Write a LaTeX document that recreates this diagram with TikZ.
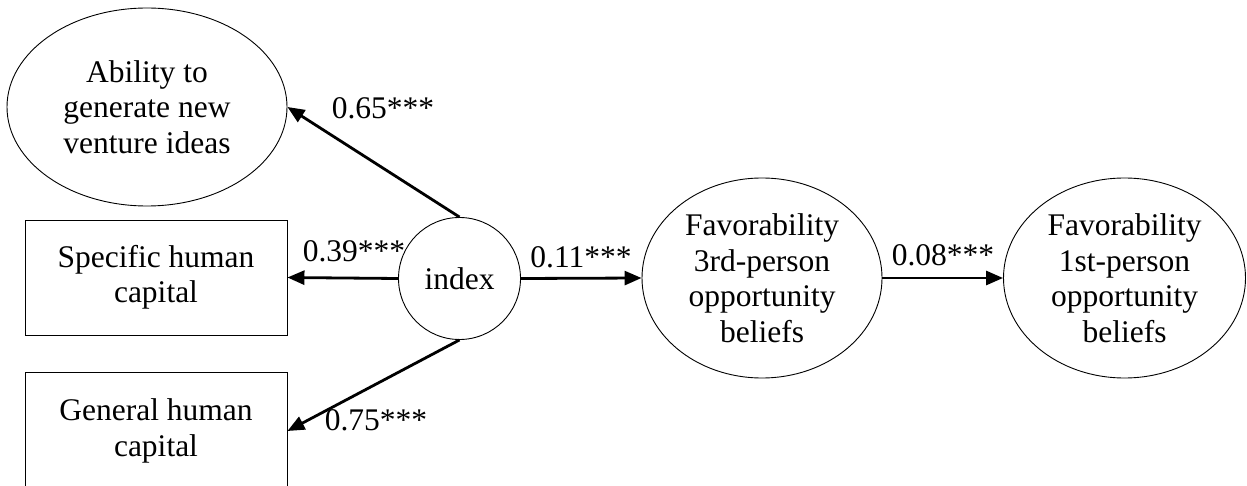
\documentclass[tikz,border=0pt]{standalone}
\usepackage{fontspec}
\setmainfont{Liberation Serif}
\usetikzlibrary{shapes.geometric,arrows.meta}
\begin{document}
\begin{tikzpicture}[x=1pt,y=-1pt,
  every node/.style={font=\fontsize{31.5}{35.5}\selectfont, align=center},
  oval/.style={draw, line width=0.9pt, ellipse, inner sep=0pt},
  boxnode/.style={draw, line width=0.9pt, rectangle, inner sep=0pt, minimum width=262pt},
  loading/.style={line width=2.8pt, -{Triangle[length=17pt,width=14pt]}},
  coef/.style={inner sep=0pt}
]
\clip (0,0) rectangle (1247,486);

% measured variables and the latent index
\node[oval, minimum width=280pt, minimum height=198pt] (abil) at (147,107)
  {Ability to\\generate new\\venture ideas};
\node[boxnode, minimum height=115pt] (spec) at (156,277.5) {Specific human\\capital};
\node[boxnode, minimum height=118pt] (gen) at (156,431) {General human\\capital};
\node[draw, line width=0.9pt, circle, inner sep=0pt, minimum size=122pt] (idx) at (459.5,278.5) {index};

% outcome beliefs
\node[oval, minimum width=240pt, minimum height=200pt] (fav3) at (762,278)
  {Favorability\\3rd-person\\opportunity\\beliefs};
\node[oval, minimum width=242pt, minimum height=200pt] (fav1) at (1124.5,278)
  {Favorability\\1st-person\\opportunity\\beliefs};

% paths
\draw[loading] (idx.north) -- (abil.east);
\draw[loading] (idx.west) -- (spec.east);
\draw[loading] (idx.south) -- (gen.east);
\draw[loading] (idx.east) -- (fav3.west);
\draw[loading] (fav3.east) -- (fav1.west);

% path coefficients
\node[coef] (c65) at (383,108) {0.65***};
\node[coef] (c39) at (354,251) {0.39***};
\node[coef] (c75) at (376,420) {0.75***};
\node[coef] (c11) at (581,257) {0.11***};
\node[coef] (c08) at (943,255) {0.08***};
\end{tikzpicture}
\end{document}
